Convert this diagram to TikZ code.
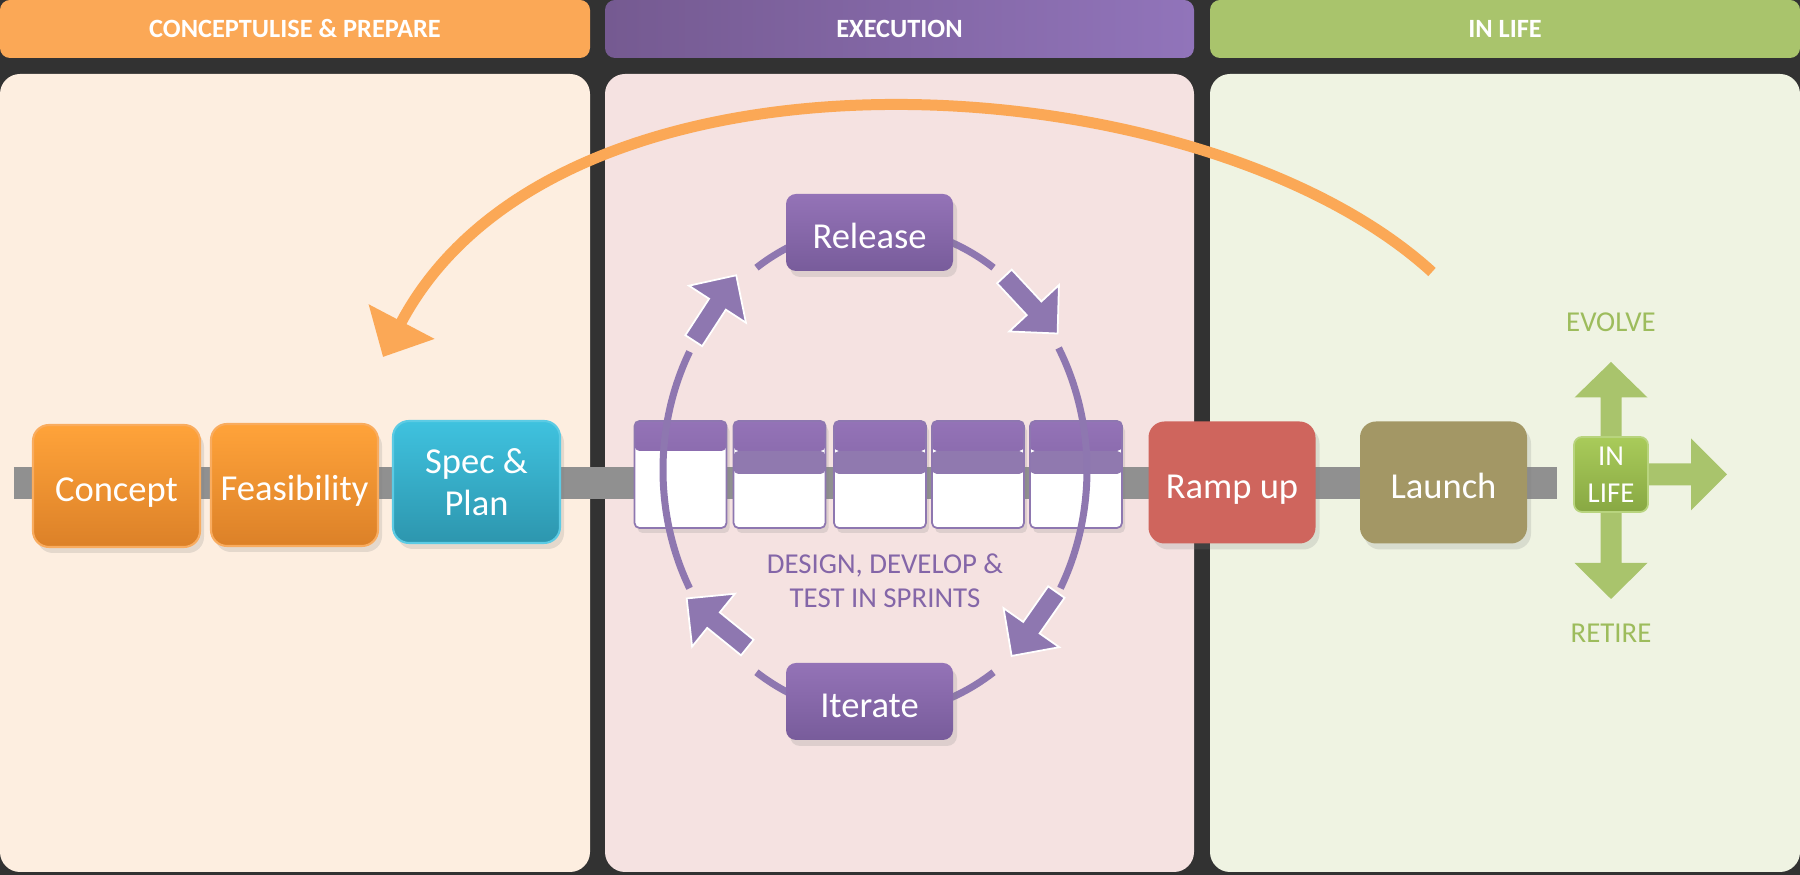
\documentclass[tikz,border=0pt]{standalone}
\usepackage{fontspec}
\setmainfont{Carlito}
\usetikzlibrary{arrows.meta,calc,shadows}

\definecolor{backdrop}{HTML}{323232}
\definecolor{prepbar}{HTML}{FBA856}
\definecolor{preppanel}{HTML}{FDEEE0}
\definecolor{execleft}{HTML}{755A91}
\definecolor{execright}{HTML}{9174BA}
\definecolor{execpanel}{HTML}{F5E2E1}
\definecolor{lifebar}{HTML}{A9C46C}
\definecolor{lifepanel}{HTML}{EFF3E2}
\definecolor{orangetop}{HTML}{FFA33A}
\definecolor{orangebot}{HTML}{DC8128}
\definecolor{orangeedge}{HTML}{F9AC5F}
\definecolor{bluetop}{HTML}{3FC2DF}
\definecolor{bluebot}{HTML}{2D96AE}
\definecolor{blueedge}{HTML}{5CCBE4}
\definecolor{purpletop}{HTML}{9473B7}
\definecolor{purplebot}{HTML}{785C9B}
\definecolor{cyclepurple}{HTML}{8E77B0}
\definecolor{sprintband}{HTML}{9079AF}
\definecolor{textpurple}{HTML}{8466A8}
\definecolor{rampred}{HTML}{CF655D}
\definecolor{launchkhaki}{HTML}{A39765}
\definecolor{greentop}{HTML}{A9CB5A}
\definecolor{greenbot}{HTML}{88A843}
\definecolor{greenedge}{HTML}{B8D47E}
\definecolor{greentext}{HTML}{9DBC5C}
\definecolor{spinegray}{HTML}{909090}

% block arrow on the sprint cycle: x, y, angle
\newcommand{\turnarrow}[3]{%
  \draw[cyclearrow, shift={(#1,#2)}, rotate=#3] (-0.39,-0.1) -- (0.045,-0.1) -- (0.045,-0.34) -- (0.39,0) -- (0.045,0.34) -- (0.045,0.1) -- (-0.39,0.1) -- cycle;}

\tikzset{
  header/.style={rounded corners=1mm, minimum width=5.9cm, minimum height=5.8mm, inner sep=0pt, text=white, font=\fontsize{7.5}{9}\selectfont\bfseries},
  stage/.style={rounded corners=1.6mm, minimum width=1.67cm, minimum height=1.22cm, inner sep=0pt, align=center, text=white, line width=.6pt, font=\fontsize{10.4}{12}\selectfont, drop shadow={opacity=.2, shadow xshift=.4mm, shadow yshift=-.6mm}},
  oneline/.style={text height=11pt, text depth=2pt},
  loopstage/.style={stage, oneline, minimum height=7.7mm, rounded corners=1mm, top color=purpletop, bottom color=purplebot},
  sprint/.style={draw=cyclepurple, line width=.5pt, fill=white, rounded corners=.5mm, minimum width=9.2mm, minimum height=1.07cm, inner sep=0pt, drop shadow={opacity=.2, shadow xshift=.3mm, shadow yshift=-.5mm},
    path picture={\shade[top color=purpletop, bottom color=purplebot] (path picture bounding box.north west) rectangle ([yshift=-3mm]path picture bounding box.north east);}},
  sprintnext/.style={sprint,
    path picture={\shade[top color=purpletop, bottom color=purplebot] (path picture bounding box.north west) rectangle ([yshift=-3mm]path picture bounding box.north east);
      \fill[sprintband] ([yshift=-3mm]path picture bounding box.north west) rectangle ([yshift=-5.3mm]path picture bounding box.north east);}},
  cyclearc/.style={draw=cyclepurple, line width=.7mm},
  cyclearrow/.style={fill=cyclepurple, draw=white, line width=.5pt},
  lifebox/.style={rounded corners=.8mm, minimum width=7.4mm, minimum height=7.5mm, inner sep=0pt, align=center, text=white, top color=greentop, bottom color=greenbot, draw=greenedge, line width=.5pt, font=\fontsize{8.2}{10.4}\selectfont},
  lifearrow/.style={fill=lifebar},
  spine/.style={spinegray, line width=3.2mm},
  loopback/.style={prepbar, line width=1.1mm, -{Triangle[length=4mm,width=7.2mm]}},
  note/.style={align=center, font=\fontsize{8.2}{9.7}\selectfont}
}

\begin{document}
\begin{tikzpicture}
\useasboundingbox (0,0) rectangle (18,8.75);
\fill[backdrop] (0,0) rectangle (18,8.75);

% phase headers and panels
\node[header, fill=prepbar] (prephead) at (2.95,8.46) {CONCEPTULISE \& PREPARE};
\node[header, left color=execleft, right color=execright, minimum width=5.89cm] (exechead) at (8.995,8.46) {EXECUTION};
\node[header, fill=lifebar] (lifehead) at (15.05,8.46) {IN LIFE};

\fill[preppanel, rounded corners=2mm] (0,0.03) rectangle (5.90,8.01);
\fill[execpanel, rounded corners=2mm] (6.05,0.03) rectangle (11.94,8.01);
\fill[lifepanel, rounded corners=2mm] (12.10,0.03) rectangle (18.0,8.01);

% timeline
\coordinate (spinestart) at (0.14,3.92);
\coordinate (spineend) at (15.57,3.92);
\draw[spine] (spinestart) -- (spineend);

\node[stage, oneline, top color=orangetop, bottom color=orangebot, draw=orangeedge] (concept) at (1.165,3.89) {Concept};
\node[stage, oneline, top color=orangetop, bottom color=orangebot, draw=orangeedge] (feasibility) at (2.945,3.90) {Feasibility};
\node[stage, top color=bluetop, bottom color=bluebot, draw=blueedge] (spec) at (4.765,3.93) {Spec \&\\Plan};
\node[stage, oneline, fill=rampred] (rampup) at (12.32,3.925) {Ramp up};
\node[stage, oneline, fill=launchkhaki] (launch) at (14.435,3.925) {Launch};

% sprints
\node[sprint] (sprint1) at (6.805,4.005) {};
\node[sprintnext] (sprint2) at (7.795,4.005) {};
\node[sprintnext] (sprint3) at (8.80,4.005) {};
\node[sprintnext] (sprint4) at (9.78,4.005) {};
\node[sprintnext] (sprint5) at (10.76,4.005) {};

% the cycle round the sprints
\coordinate (cyc) at (8.75,4.05);
\draw[cyclearc] ($(cyc)+(56:2.12 and 2.44)$) arc[start angle=56, end angle=124, x radius=2.12, y radius=2.44];
\draw[cyclearc] ($(cyc)+(151:2.12 and 2.44)$) arc[start angle=151, end angle=209, x radius=2.12, y radius=2.44];
\draw[cyclearc] ($(cyc)+(236:2.12 and 2.44)$) arc[start angle=236, end angle=304, x radius=2.12, y radius=2.44];
\draw[cyclearc] ($(cyc)+(-29:2.12 and 2.44)$) arc[start angle=-29, end angle=30, x radius=2.12, y radius=2.44];

\turnarrow{10.31}{5.70}{-47}
\turnarrow{10.34}{2.51}{-125}
\turnarrow{7.17}{2.52}{141}
\turnarrow{7.15}{5.67}{57}

\node[loopstage] (release) at (8.695,6.425) {Release};
\node[loopstage] (iterate) at (8.695,1.735) {Iterate};
\node[note, text=textpurple] (sprinttext) at (8.85,2.94) {DESIGN, DEVELOP \&\\TEST IN SPRINTS};

% in life: evolve, carry on or retire
\coordinate (lifehub) at (16.11,4.005);
\fill[lifearrow, shift={(lifehub)}, rotate=90] (0,-.105) -- (.77,-.105) -- (.77,-.365) -- (1.125,0) -- (.77,.365) -- (.77,.105) -- (0,.105) -- cycle;
\fill[lifearrow, shift={(lifehub)}, rotate=-90] (0,-.105) -- (.885,-.105) -- (.885,-.365) -- (1.245,0) -- (.885,.365) -- (.885,.105) -- (0,.105) -- cycle;
\fill[lifearrow, shift={(lifehub)}] (0,-.11) -- (.80,-.11) -- (.80,-.36) -- (1.16,0) -- (.80,.36) -- (.80,.11) -- (0,.11) -- cycle;
\node[lifebox] (inlife) at (lifehub) {IN\\LIFE};
\node[note, text=greentext] (evolve) at (16.11,5.53) {EVOLVE};
\node[note, text=greentext] (retire) at (16.11,2.42) {RETIRE};

% back round to the start
\coordinate (loopstart) at (14.32,6.03);
\coordinate (loopend) at (3.83,5.18);
\draw[loopback] (loopstart) .. controls (12.0,8.15) and (5.6,8.55) .. (loopend);
\end{tikzpicture}
\end{document}
